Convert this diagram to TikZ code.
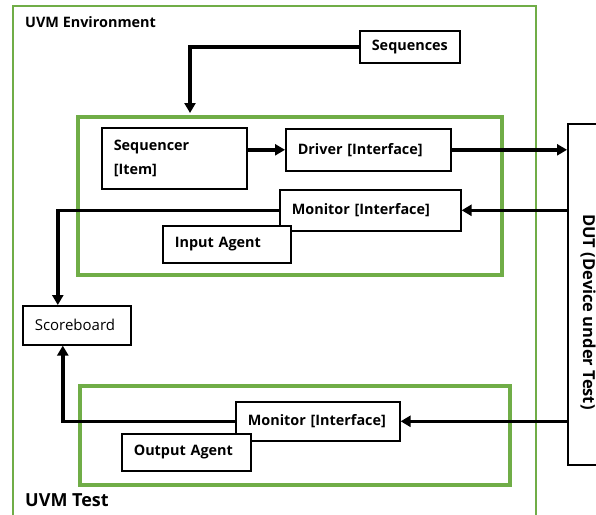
\documentclass[tikz,border=0pt]{standalone}
\usepackage{fontspec}
\setmainfont{Open Sans}
\usetikzlibrary{positioning,calc,arrows.meta}
\definecolor{agentgreen}{RGB}{112,173,71}

\begin{document}
\begin{tikzpicture}[
  x=1pt, y=-1pt,
  font=\fontsize{14.4}{16}\selectfont\bfseries,
  blk/.style={draw, line width=1.6pt, fill=white, align=left, anchor=north west,
    inner xsep=12pt, inner ysep=0pt},
  agent/.style={draw=agentgreen, line width=3.5pt, anchor=north west, inner sep=0pt},
  flow/.style={line width=3.5pt, -{Triangle[length=10pt,width=11pt]}}]
\useasboundingbox (0,0) rectangle (596,514);
% frames
\node[draw=agentgreen, line width=1.5pt, anchor=north west, inner sep=0pt,
  minimum width=523, minimum height=530] (env) at (12,5) {};
\node[anchor=west, inner sep=0pt] (envlbl) at (25,22) {UVM Environment};
\node[anchor=west, inner sep=0pt, font=\fontsize{18}{20}\selectfont\bfseries]
  (testlbl) at (25,500) {UVM Test};
\node[agent, minimum width=424, minimum height=158] (inagent) at (76,115) {};
\node[agent, minimum width=430, minimum height=99] (outagent) at (78,384) {};
% blocks
\node[blk, text width=76pt, minimum height=32pt] (seq) at (359,30) {Sequences};
\node[blk, text width=121pt, minimum height=61pt] (sqr) at (101,127)
  {Sequencer\\[8pt]{[Item]}};
\node[blk, text width=141pt, minimum height=42pt] (drv) at (285,128) {Driver [Interface]};
\node[blk, text width=157pt, minimum height=41pt] (inmon) at (279,189) {Monitor [Interface]};
\node[blk, text width=104pt, minimum height=37pt] (inag) at (162,225) {Input Agent};
\node[blk, text width=84pt, minimum height=39pt, font=\fontsize{15}{17}\selectfont]
  (sb) at (22,305) {Scoreboard};
\node[blk, text width=140pt, minimum height=39pt] (outmon) at (235,401) {Monitor [Interface]};
\node[blk, text width=105pt, minimum height=37pt] (outag) at (121,433) {Output Agent};
\node[draw, line width=1.6pt, anchor=north west, inner sep=0pt,
  minimum width=44, minimum height=341] (dut) at (567,123) {};
\node[rotate=-90, inner sep=0pt, font=\fontsize{16.5}{18}\selectfont\bfseries]
  (dutlbl) at (588,312) {DUT (Device under Test)};
% connectors
\coordinate (seqdrop) at (190,113);
\draw[flow] (seq.west) -| (seqdrop);
\draw[flow] (sqr.east |- drv.west) -- (drv.west);
\draw[flow] (drv.east) -- (drv.east -| dut.west);
\draw[flow] (dut.west |- inmon.east) -- (inmon.east);
\draw[flow] (inmon.west) -| ([xshift=-19pt]sb.north);
\draw[flow] (dut.west |- outmon.east) -- (outmon.east);
\draw[flow] (outmon.west) -| ([xshift=-14pt]sb.south);
\end{tikzpicture}
\end{document}
